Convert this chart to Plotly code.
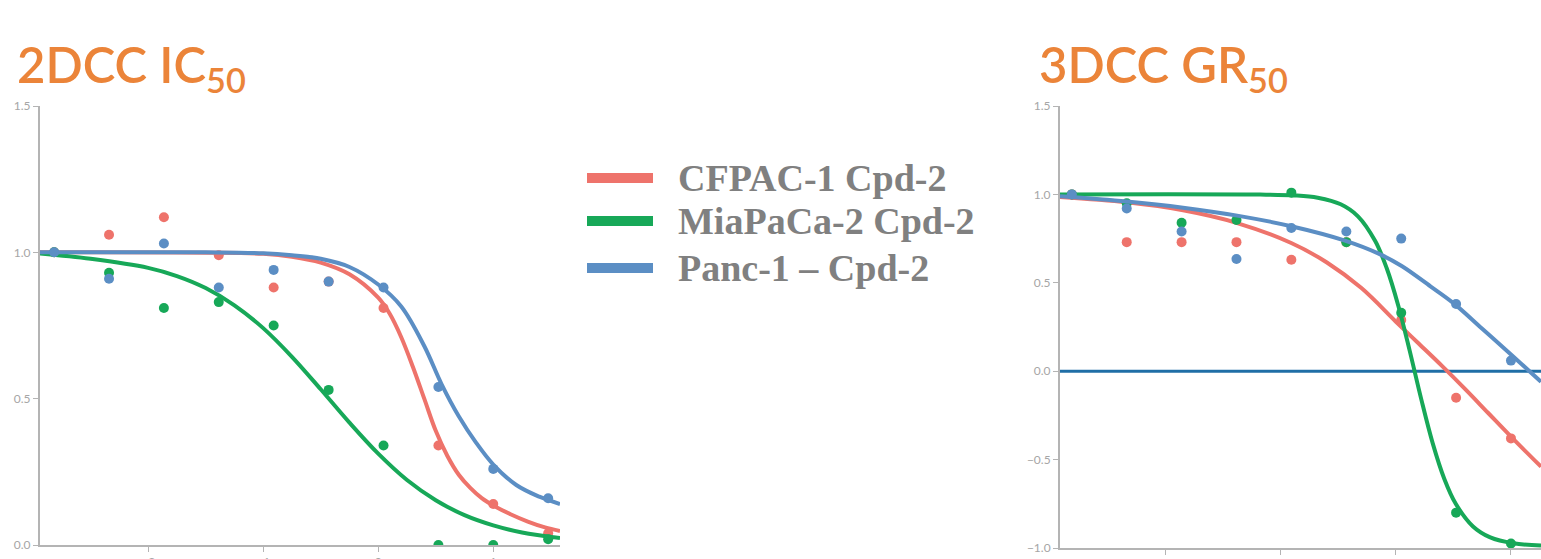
import plotly.graph_objects as go

W, H = 1541, 559

# log10 concentration of the 3-fold dilution series
conc_2d = [-2.817, -2.340, -1.863, -1.386, -0.909, -0.431, 0.046, 0.523, 1.000, 1.477]
conc_3d = [-2.817, -2.340, -1.863, -1.386, -0.909, -0.431, 0.046, 0.523, 1.000]

series_names = ["CFPAC-1 Cpd-2", "MiaPaCa-2 Cpd-2", "Panc-1 – Cpd-2"]
series_colors = ["#EE736B", "#17A858", "#5B8EC4"]

# 2D culture: relative viability
ic_cfpac = [1.00, 1.06, 1.12, 0.99, 0.88, 0.90, 0.81, 0.34, 0.14, 0.04]
ic_miapaca = [1.00, 0.93, 0.81, 0.83, 0.75, 0.53, 0.34, 0.00, 0.00, 0.02]
ic_panc = [1.00, 0.91, 1.03, 0.88, 0.94, 0.90, 0.88, 0.54, 0.26, 0.16]

# 2D culture: fitted dose-response curves
fit2d_cfpac_x = [-2.94, -1.5, -1.0, -0.75, -0.5, -0.25, 0.0, 0.1, 0.2, 0.3, 0.4, 0.5, 0.6, 0.7, 0.8, 0.9,
                 1.0, 1.15, 1.3, 1.45, 1.58]
fit2d_cfpac_y = [1.0, 0.999, 0.995, 0.985, 0.965, 0.925, 0.845, 0.79, 0.71, 0.61, 0.50, 0.39, 0.305, 0.24,
                 0.195, 0.16, 0.135, 0.105, 0.08, 0.06, 0.048]
fit2d_mia_x = [-2.94, -2.5, -2.0, -1.75, -1.5, -1.25, -1.0, -0.75, -0.5, -0.25, 0.0, 0.25, 0.5, 0.75, 1.0,
               1.25, 1.58]
fit2d_mia_y = [0.996, 0.978, 0.947, 0.919, 0.878, 0.819, 0.741, 0.643, 0.532, 0.418, 0.312, 0.222, 0.153,
               0.102, 0.067, 0.043, 0.024]
fit2d_panc_x = [-2.94, -1.5, -1.0, -0.75, -0.5, -0.25, 0.0, 0.2, 0.4, 0.55, 0.7, 0.85, 1.0, 1.2, 1.4, 1.58]
fit2d_panc_y = [1.0, 1.0, 0.997, 0.99, 0.978, 0.95, 0.89, 0.815, 0.68, 0.55, 0.44, 0.35, 0.275, 0.205,
                0.165, 0.14]

# 3D culture: normalized growth rate
gr_cfpac = [1.00, 0.73, 0.73, 0.73, 0.63, 0.73, 0.29, -0.15, -0.38]
gr_miapaca = [1.00, 0.95, 0.84, 0.855, 1.01, 0.73, 0.33, -0.80, -0.975]
gr_panc = [1.00, 0.92, 0.79, 0.635, 0.81, 0.79, 0.75, 0.38, 0.06]

# 3D culture: fitted curves
fit3d_cfpac_x = [-2.92, -2.34, -1.85, -1.38, -0.91, -0.6, -0.3, 0.0, 0.2, 0.4, 0.6, 0.8, 1.0, 1.261]
fit3d_cfpac_y = [0.985, 0.955, 0.91, 0.838, 0.725, 0.615, 0.47, 0.28, 0.155, 0.03, -0.10, -0.235, -0.37, -0.54]
fit3d_mia_x = [-2.92, -1.18, -0.88, -0.68, -0.48, -0.33, -0.18, -0.08, 0.02, 0.12, 0.22, 0.32, 0.42, 0.52,
               0.67, 0.82, 1.02, 1.261]
fit3d_mia_y = [1.0, 0.999, 0.994, 0.981, 0.944, 0.876, 0.736, 0.582, 0.372, 0.115, -0.158, -0.408, -0.608,
               -0.75, -0.878, -0.94, -0.973, -0.986]
fit3d_panc_x = [-2.92, -2.34, -1.85, -1.38, -0.91, -0.45, -0.15, 0.05, 0.3, 0.5, 0.75, 1.0, 1.261]
fit3d_panc_y = [0.99, 0.96, 0.925, 0.88, 0.82, 0.74, 0.665, 0.595, 0.48, 0.385, 0.24, 0.095, -0.06]

x_ticks = [-2, -1, 0, 1]
y_ticks_2d = [0.0, 0.5, 1.0, 1.5]
y_ticks_3d = [-1.0, -0.5, 0.0, 0.5, 1.0, 1.5]

fig = go.Figure()

panels = [
    ("x", "y", conc_2d, [ic_cfpac, ic_miapaca, ic_panc],
     [(fit2d_cfpac_x, fit2d_cfpac_y), (fit2d_mia_x, fit2d_mia_y), (fit2d_panc_x, fit2d_panc_y)]),
    ("x2", "y2", conc_3d, [gr_cfpac, gr_miapaca, gr_panc],
     [(fit3d_cfpac_x, fit3d_cfpac_y), (fit3d_mia_x, fit3d_mia_y), (fit3d_panc_x, fit3d_panc_y)]),
]

for xa, ya, xs, ys_list, fits in panels:
    if xa == "x2":
        # GR = 0 reference line
        fig.add_trace(go.Scatter(x=[-2.92, 1.261], y=[0, 0], mode="lines",
                                 line=dict(color="#1F6EA6", width=3),
                                 xaxis=xa, yaxis=ya, showlegend=False, hoverinfo="skip"))
    for name, color, ys, (fx, fy) in zip(series_names, series_colors, ys_list, fits):
        fig.add_trace(go.Scatter(x=fx, y=fy, mode="lines", line=dict(color=color, width=4, shape="spline"),
                                 xaxis=xa, yaxis=ya, showlegend=False, name=name))
        fig.add_trace(go.Scatter(x=xs, y=ys, mode="markers", marker=dict(color=color, size=10),
                                 xaxis=xa, yaxis=ya, showlegend=False, name=name))


def px_x(p):
    return p / W


def px_y(p):
    return (H - p) / H


axis_common = dict(showgrid=False, zeroline=False, showline=True, linecolor="#B4B4B4", linewidth=2,
                   ticks="outside", ticklen=5, tickcolor="#B4B4B4", tickwidth=1, automargin=False,
                   tickfont=dict(family="Lato", size=12, color="#A6A6A6"))

fig.update_layout(
    width=W, height=H,
    margin=dict(l=0, r=0, t=0, b=0, autoexpand=False),
    paper_bgcolor="white", plot_bgcolor="white",
    xaxis=dict(domain=[px_x(40), px_x(560)], range=[-2.94, 1.58], tickvals=x_ticks, anchor="y", **axis_common),
    yaxis=dict(domain=[px_y(545), px_y(106)], range=[0, 1.5], tickvals=y_ticks_2d, tickformat=".1f",
               anchor="x", **axis_common),
    xaxis2=dict(domain=[px_x(1060), 1.0], range=[-2.92, 1.261], tickvals=x_ticks, anchor="y2", **axis_common),
    yaxis2=dict(domain=[px_y(548), px_y(106)], range=[-1.0, 1.5], tickvals=y_ticks_3d, tickformat=".1f",
                anchor="x2", **axis_common),
)

title_font = dict(family="Lato", size=49, color="#EB8439", weight=600)
fig.add_annotation(text="2DCC IC<sub>50</sub>", xref="paper", yref="paper", x=px_x(15), y=px_y(67),
                   xanchor="left", yanchor="middle", showarrow=False, font=title_font)
fig.add_annotation(text="3DCC GR<sub>50</sub>", xref="paper", yref="paper", x=px_x(1037), y=px_y(67),
                   xanchor="left", yanchor="middle", showarrow=False, font=title_font)

# legend
legend_rows = [178, 221, 268]
for name, color, yrow in zip(series_names, series_colors, legend_rows):
    fig.add_shape(type="line", xref="paper", yref="paper", x0=px_x(587), x1=px_x(653),
                  y0=px_y(yrow), y1=px_y(yrow), line=dict(color=color, width=10))
    fig.add_annotation(text=name, xref="paper", yref="paper", x=px_x(676), y=px_y(yrow),
                       xanchor="left", yanchor="middle", showarrow=False,
                       font=dict(family="Liberation Serif", size=38, color="#808080", weight="bold"))

fig.write_html("out.html")
